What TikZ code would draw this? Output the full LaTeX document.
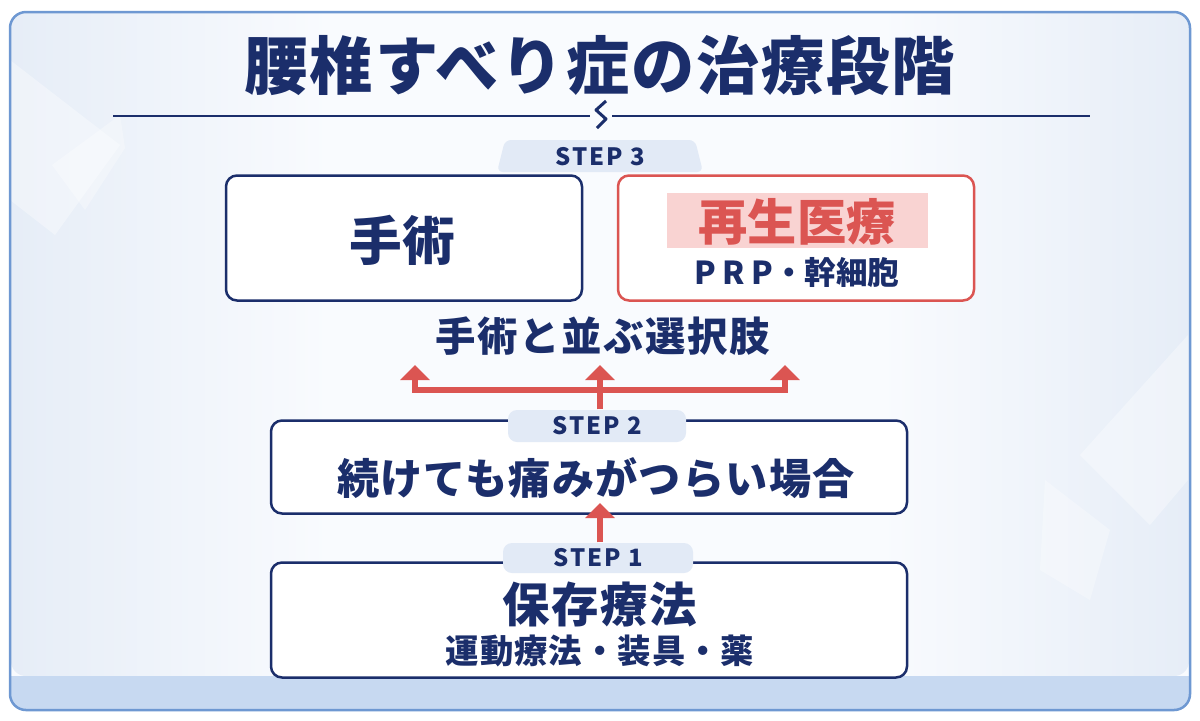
\documentclass[tikz,border=0pt]{standalone}
\usepackage{fontspec}
\setmainfont{Noto Sans CJK JP}
\usetikzlibrary{arrows.meta,positioning}
\definecolor{navy}{HTML}{1B2E6B}
\definecolor{stepred}{HTML}{DB5552}
\definecolor{pinkbg}{HTML}{F9D3D2}
\definecolor{tabbg}{HTML}{E2EAF6}
\definecolor{framebd}{HTML}{6E98D2}
\definecolor{bandbg}{HTML}{C7D9F1}
\definecolor{paper}{HTML}{F9FBFE}
\definecolor{paperdark}{HTML}{E6EDF7}
\newcommand{\jpsize}[1]{\fontsize{#1}{#1}\selectfont\bfseries}

\begin{document}
\begin{tikzpicture}[x=0.1mm,y=-0.1mm,
  stepbox/.style={draw=navy, line width=0.25mm, rounded corners=1.1mm, fill=white, inner sep=0pt},
  regenbox/.style={stepbox, draw=stepred},
  steptab/.style={fill=tabbg, rounded corners=0.9mm, inner sep=0pt, text=navy,
    font={\jpsize{6.8pt}\addfontfeatures{LetterSpace=8}}},
  jptext/.style={text=navy, inner sep=0pt},
  redline/.style={draw=stepred, line width=0.6mm},
  redarrow/.style={redline, -{Triangle[width=2.9mm,length=1.5mm]}}]

\useasboundingbox (0,0) rectangle (1200,720);
\fill[white] (0,0) rectangle (1200,720);

% frame and background
\fill[paper, rounded corners=1.6mm] (10,12) rectangle (1190,710);
\shade[left color=paperdark, right color=paper, rounded corners=1.5mm] (11,13) -- (330,13) -- (330,676) -- (11,676) -- cycle;
\shade[left color=paper, right color=paperdark, rounded corners=1.5mm] (880,13) -- (1189,13) -- (1189,676) -- (880,676) -- cycle;
\fill[white, opacity=0.35] (10,60) -- (120,145) -- (55,235) -- (10,200) -- cycle;
\fill[white, opacity=0.3] (120,115) -- (52,165) -- (85,210) -- (125,148) -- cycle;
\fill[white, opacity=0.35] (1188,335) -- (1080,455) -- (1150,525) -- (1188,480) -- cycle;
\fill[white, opacity=0.3] (1045,480) -- (1110,530) -- (1090,600) -- (1040,570) -- cycle;
\fill[bandbg, rounded corners=1.6mm] (10,676) -- (10,710) -- (1190,710) -- (1190,676) -- cycle;
\fill[bandbg] (10,676) rectangle (1190,690);
\draw[framebd, line width=0.25mm, rounded corners=1.6mm] (10,12) rectangle (1190,710);

% title
\node[jptext, font={\jpsize{18pt}\addfontfeatures{LetterSpace=3}}] (title) at (600,65) {腰椎すべり症の治療段階};
\draw[navy, line width=0.2mm] (113,116) -- (590,116);
\draw[navy, line width=0.2mm] (612,116) -- (1090,116);
\draw[navy, line width=0.3mm, line join=round] (606,101) -- (596,110) -- (606,119) -- (597,128);

% step 3
\fill[tabbg, rounded corners=0.6mm] (505,140) -- (695,140) -- (703,172) -- (497,172) -- cycle;
\node[text=navy, font={\jpsize{6.8pt}\addfontfeatures{LetterSpace=8}}] (tab3) at (600,157) {STEP 3};
\node[stepbox, minimum width=35.6mm, minimum height=12.5mm] (surgery) at (404,238) {};
\node[jptext, font=\jpsize{15pt}] (surgerytxt) at (402,240) {手術};
\node[regenbox, minimum width=35.6mm, minimum height=12.5mm] (regen) at (796,238) {};
\node[fill=pinkbg, minimum width=26.1mm, minimum height=5.5mm, inner sep=0pt] (regenbg) at (797,220) {};
\node[text=stepred, font=\jpsize{14pt}, inner sep=0pt] (regentxt) at (797,222) {再生医療};
\node[jptext, font={\jpsize{9pt}}] (regensub) at (797,273) {{\addfontfeatures{LetterSpace=20}PRP}・幹細胞};
\node[jptext, font={\jpsize{11.5pt}\addfontfeatures{LetterSpace=4}}] (choice) at (603,336) {手術と並ぶ選択肢};

% step 2
\node[stepbox, minimum width=63.6mm, minimum height=9.3mm] (box2) at (589,467) {};
\node[steptab, minimum width=17.8mm, minimum height=3.2mm] (tab2) at (597,426) {STEP 2};
\node[jptext, font={\jpsize{12pt}\addfontfeatures{LetterSpace=3}}] (box2txt) at (596,478) {続けても痛みがつらい場合};

% step 1
\node[stepbox, minimum width=63.6mm, minimum height=11.5mm] (box1) at (589,620) {};
\node[steptab, minimum width=19mm, minimum height=3mm] (tab1) at (598,558) {STEP 1};
\node[jptext, font={\jpsize{13.5pt}\addfontfeatures{LetterSpace=3}}] (box1txt) at (600,604) {保存療法};
\node[jptext, font={\jpsize{9.5pt}\addfontfeatures{LetterSpace=3}}] (box1sub) at (600,651) {運動療法・装具・薬};

% arrows
\coordinate (hub) at (600,390);
\coordinate (tipL) at (415,365);
\coordinate (tipC) at (600,365);
\coordinate (tipR) at (785,365);
\coordinate (tip2) at (600,503);
\draw[redarrow] (tab2.north -| tipC) -- (tipC);
\draw[redarrow] (hub) -| (tipL);
\draw[redarrow] (hub) -| (tipR);
\draw[redarrow] (tab1.north -| tip2) -- (tip2);
\end{tikzpicture}
\end{document}
